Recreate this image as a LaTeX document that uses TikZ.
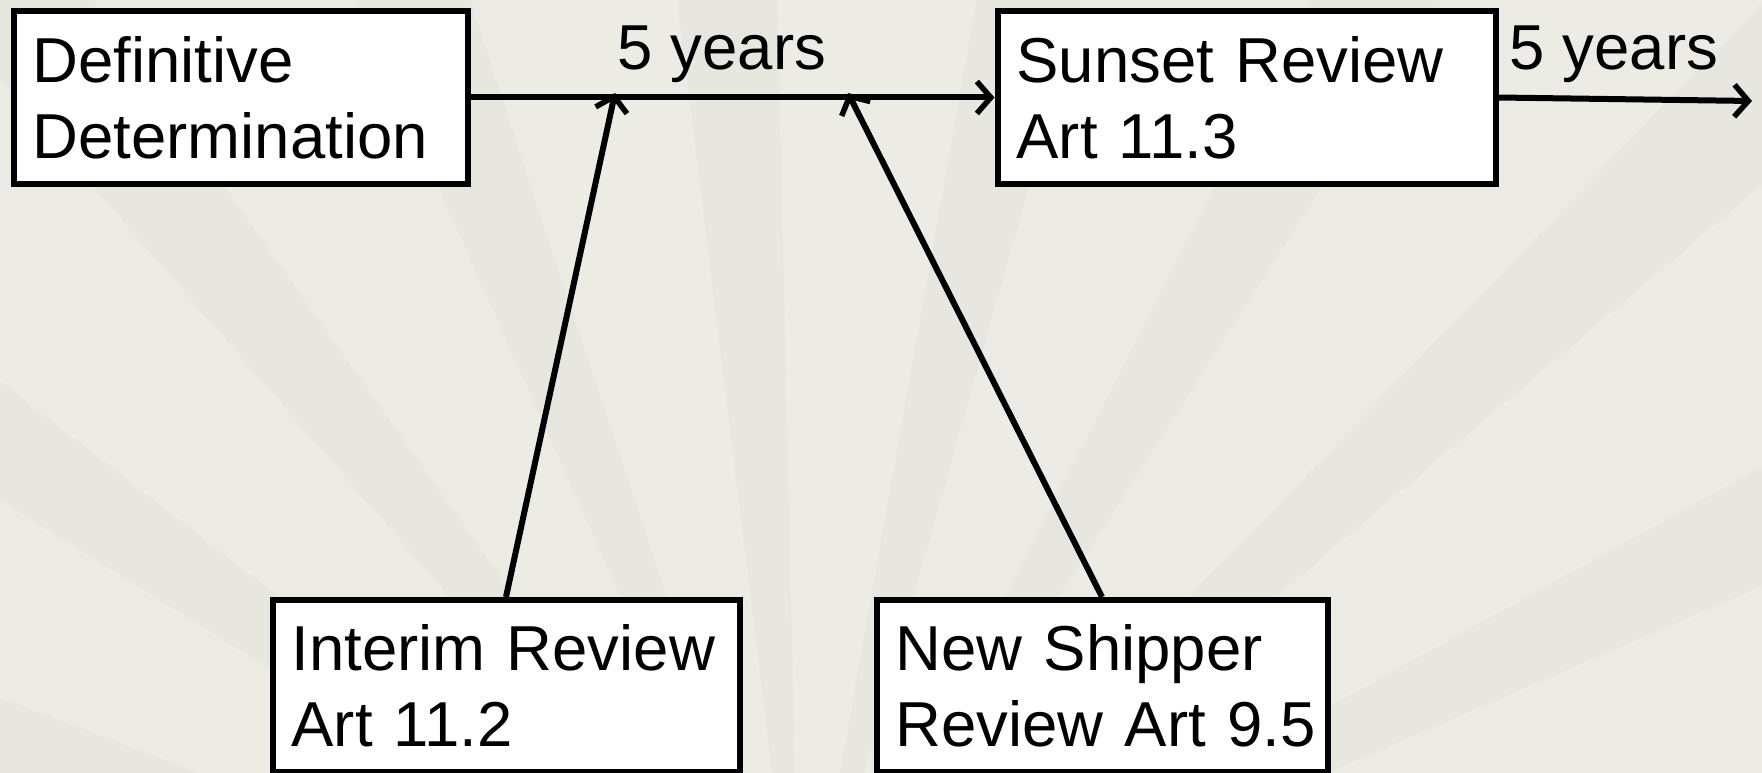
\documentclass[tikz,border=0pt]{standalone}
\usepackage{fontspec}
\setmainfont{Liberation Sans}
\usetikzlibrary{arrows.meta}
\definecolor{bgcol}{RGB}{236,235,228}
\definecolor{raycol}{RGB}{229,228,220}
\tikzset{
  box/.style={draw=black, fill=white, line width=6pt, minimum height=172pt, align=left, inner xsep=19pt, inner ysep=0pt, font=\fontsize{63.5pt}{76pt}\selectfont},
  lbl/.style={anchor=base, inner sep=0pt, font=\fontsize{63.5pt}{76pt}\selectfont},
  conn/.style={line width=6pt, -{Straight Barb[length=14pt,width=32pt,line width=5.5pt]}}
}
\begin{document}
\begin{tikzpicture}[x=1pt,y=-1pt]
\useasboundingbox (0,0) rectangle (1762,773);
\clip (0,0) rectangle (1762,773);
\fill[bgcol] (0,0) rectangle (1762,773);
% faint fan panels
\foreach \a in {195,212,...,345}{
  \fill[raycol, opacity=0.6] (800,1000) -- ++(\a:1600) -- ++(\a+90:160) -- cycle;
}
\node[box, text width=416pt] (def) at (240.5,97.5) {\mbox{Definitive}\\\mbox{Determination}};
\node[box, text width=460pt] (sun) at (1246.5,97.5) {\mbox{Sunset Review}\\\mbox{Art 11.3}};
\node[box, text width=429pt] (int) at (506,686) {\mbox{Interim Review}\\\mbox{Art 11.2}};
\node[box, text width=413pt] (nsr) at (1102,686) {\mbox{New Shipper}\\\mbox{Review Art 9.5}};
\node[lbl] (y1) at (722,70) {5 years};
\node[lbl] (y2) at (1614,70) {5 years};
\coordinate (p1) at (615,93);
\coordinate (p2) at (848,93);
\coordinate (endr) at (1752,101);
\draw[conn] (def.east) -- (sun.west);
\draw[conn] (sun.east) -- (endr);
\draw[conn] (int.north) -- (p1);
\draw[conn] (nsr.north) -- (p2);
\end{tikzpicture}
\end{document}
